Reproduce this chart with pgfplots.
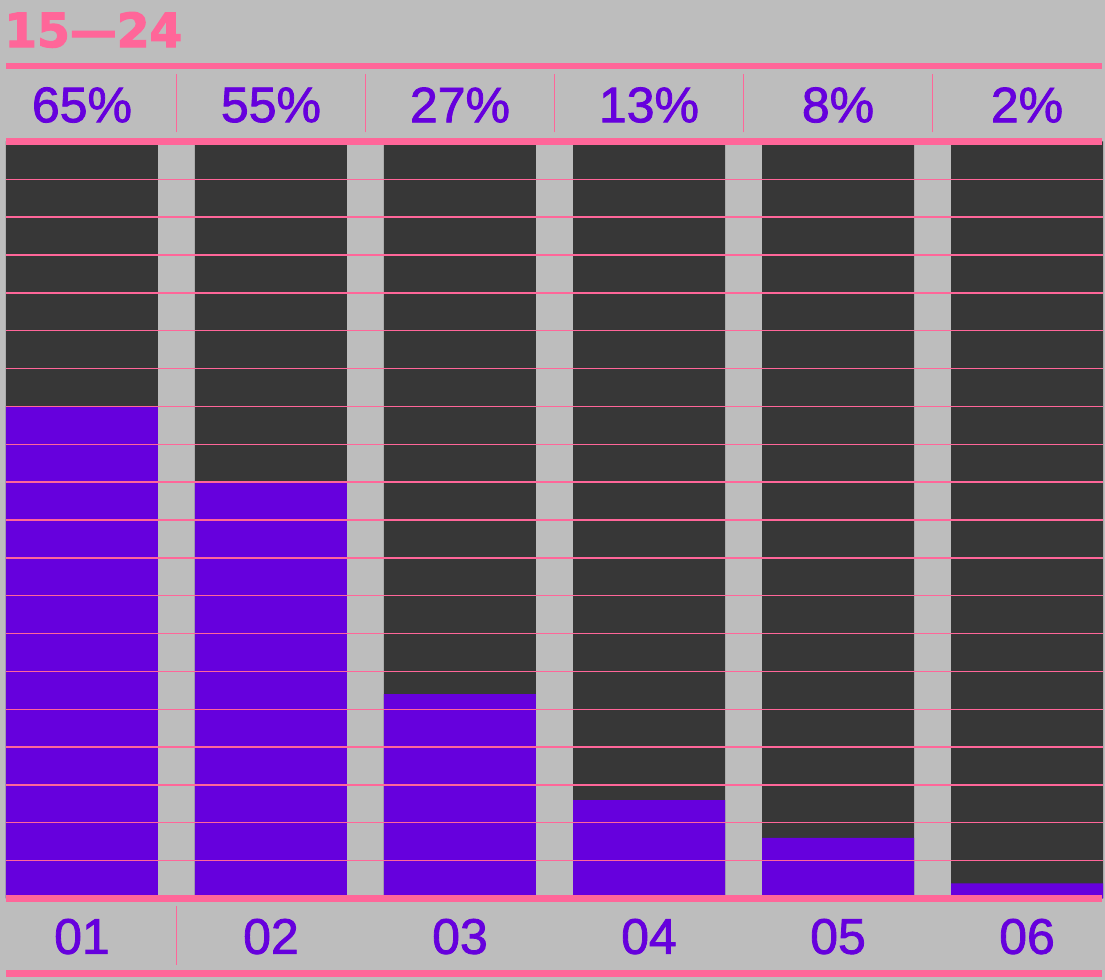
\documentclass[border=0pt]{standalone}
\usepackage{pgfplots}
\pgfplotsset{compat=1.18}
\usepackage{pgfplotstable}
\usepackage{fontspec}
\setmainfont{Liberation Sans}
\newfontfamily\labelfont[FakeBold=1.6]{Liberation Sans}
\newfontfamily\headfont[FakeBold=2.5]{DejaVu Sans Bold}

\definecolor{bgc}{HTML}{BDBDBD}
\definecolor{pinkc}{HTML}{FF6699}
\definecolor{purpc}{HTML}{6600DD}
\definecolor{darkc}{HTML}{373737}

\pgfplotstableread{
x v lab
0 65 01
1 55 02
2 27 03
3 13 04
4 8  05
5 2  06
}\shares

\begin{document}
\begin{tikzpicture}
% page background
\fill[bgc] (-3pt,-40.75pt) rectangle (549.5pt,449.25pt);
\begin{axis}[
  at={(0,0)}, anchor=south west,
  scale only axis, width=548.5pt, height=378.5pt,
  xmin=-0.402, xmax=5.402, ymin=0, ymax=100,
  enlargelimits=false, clip=false,
  axis line style={draw=none},
  xtick=\empty,
  ytick={5,10,...,95}, yticklabels={},
  major tick length=0pt,
  ymajorgrids, grid style={pinkc, line width=0.7pt},
  axis on top,
  /pgf/number format/assume math mode=true,
]
% full-height track behind each bar
\addplot[ybar, bar width=0.8042, bar shift=0pt, fill=darkc, draw=none]
  table[x=x, y expr=100] {\shares};
% share of each group
\addplot[ybar, bar width=0.8042, bar shift=0pt, fill=purpc, draw=none]
  table[x=x, y=v] {\shares};
% percentage row above the bars
\addplot[draw=none, mark=none, point meta=explicit,
  nodes near coords={\pgfmathprintnumber{\pgfplotspointmeta}\%},
  every node near coord/.append style={anchor=center, text=purpc,
    font=\labelfont\fontsize{25}{30}\selectfont}]
  table[x=x, y expr=104.82, meta=v] {\shares};
% group numbers below the bars
\addplot[draw=none, mark=none, point meta=explicit symbolic,
  nodes near coords,
  every node near coord/.append style={anchor=center, text=purpc,
    font=\labelfont\fontsize{25}{30}\selectfont}]
  table[x=x, y expr=-5.03, meta=lab] {\shares};
% heavy rules
\draw[pinkc, line width=3.3pt] (axis cs:-0.402,109.97) -- (axis cs:5.397,109.97);
\draw[pinkc, line width=3.5pt] (axis cs:-0.402,100) -- (axis cs:5.397,100);
\draw[pinkc, line width=3.5pt] (axis cs:-0.402,0) -- (axis cs:5.397,0);
\draw[pinkc, line width=3.5pt] (axis cs:-0.402,-9.9) -- (axis cs:5.397,-9.9);
% separators in the percentage row
\pgfplotsinvokeforeach{0.5,1.5,2.5,3.5,4.5}{
  \draw[pinkc, line width=0.5pt] (axis cs:#1,101.2) -- (axis cs:#1,108.9);
}
\draw[pinkc, line width=0.5pt] (axis cs:0.5,-1.0) -- (axis cs:0.5,-8.8);
% heading
\node[anchor=base west, inner sep=0pt, text=pinkc,
  font=\headfont\fontsize{23.5}{28}\selectfont]
  at (axis cs:-0.402,112.48) {\hspace*{-1pt}15—24};
\end{axis}
\pgfresetboundingbox
\useasboundingbox (-3pt,-40.75pt) rectangle (549.5pt,449.25pt);
\end{tikzpicture}
\end{document}
